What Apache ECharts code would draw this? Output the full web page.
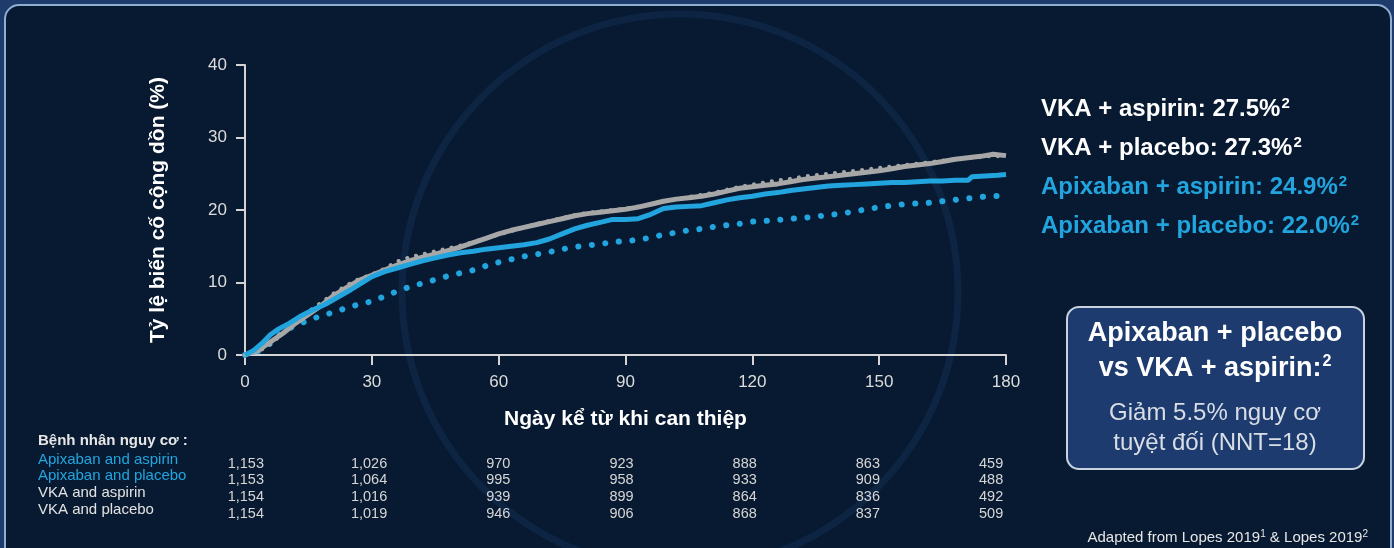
<!DOCTYPE html>
<html>
<head>
<meta charset="utf-8">
<script src="https://cdn.jsdelivr.net/npm/echarts@6/dist/echarts.min.js"></script>
<style>
  html, body { margin: 0; padding: 0; background: #1f3b6b; }
  #chart { width: 1394px; height: 548px; }
</style>
</head>
<body>
<div id="chart"></div>
<script>
// Cumulative event rate (%) by day since randomisation, [day, %]
const vkaAspirin = [[0,0],[3,0.6],[6,1.8],[9,3.0],[12,4.4],[15,5.6],[18,6.8],[21,8.2],[24,9.3],[27,10.3],[30,11.0],[33,11.7],[36,12.4],[39,13.0],[42,13.5],[45,13.9],[48,14.4],[51,14.9],[54,15.5],[57,16.1],[60,16.7],[63,17.2],[66,17.6],[69,18.0],[72,18.4],[75,18.8],[78,19.2],[81,19.5],[84,19.7],[87,19.9],[90,20.1],[93,20.4],[96,20.8],[99,21.2],[102,21.5],[105,21.7],[108,21.9],[111,22.2],[114,22.6],[117,23.0],[120,23.2],[123,23.4],[126,23.6],[129,23.9],[132,24.2],[135,24.4],[138,24.6],[141,24.8],[144,25.0],[147,25.2],[150,25.4],[153,25.7],[156,26.0],[159,26.2],[162,26.4],[165,26.7],[168,27.0],[171,27.2],[174,27.4],[177,27.7],[180,27.5]];
const vkaPlacebo = [[0,0],[3,0.4],[6,1.5],[9,3.0],[12,4.6],[15,6.0],[18,7.2],[21,8.5],[24,9.6],[27,10.5],[30,11.1],[33,11.9],[36,12.9],[39,13.5],[42,13.9],[45,14.3],[48,14.7],[51,15.1],[54,15.6],[57,16.1],[60,16.6],[63,17.1],[66,17.6],[69,18.1],[72,18.5],[75,18.9],[78,19.3],[81,19.6],[84,19.8],[87,20.0],[90,20.2],[93,20.5],[96,20.8],[99,21.2],[102,21.5],[105,21.8],[108,22.1],[111,22.4],[114,22.8],[117,23.2],[120,23.5],[123,23.8],[126,24.1],[129,24.3],[132,24.6],[135,24.8],[138,25.0],[141,25.2],[144,25.4],[147,25.6],[150,25.8],[153,26.0],[156,26.2],[159,26.4],[162,26.6],[165,26.8],[168,27.0],[171,27.2],[174,27.3],[177,27.5],[180,27.3]];
const apixAspirin = [[0,0],[2,0.6],[4,1.6],[6,2.8],[8,3.6],[10,4.2],[13,5.3],[16,6.2],[19,7.0],[22,8.0],[25,9.0],[28,10.1],[30,10.8],[33,11.5],[36,12.0],[39,12.5],[42,13.0],[45,13.4],[48,13.8],[51,14.1],[54,14.3],[57,14.6],[60,14.8],[63,15.0],[66,15.2],[69,15.5],[72,16.0],[75,16.7],[78,17.4],[81,17.9],[84,18.3],[87,18.7],[90,18.7],[93,18.8],[96,19.4],[99,20.2],[102,20.4],[105,20.5],[108,20.6],[111,21.0],[114,21.4],[117,21.7],[120,21.9],[123,22.2],[126,22.4],[129,22.7],[132,22.9],[135,23.1],[138,23.3],[141,23.4],[144,23.5],[147,23.6],[150,23.7],[153,23.8],[156,23.8],[159,23.9],[162,24.0],[165,24.0],[168,24.1],[171,24.1],[172,24.6],[175,24.7],[178,24.8],[180,24.9]];
const apixPlacebo = [[0,0],[3,0.5],[6,1.6],[9,3.2],[12,4.1],[15,4.8],[18,5.4],[21,5.9],[24,6.5],[27,7.0],[30,7.4],[33,8.1],[36,8.8],[39,9.4],[42,9.9],[45,10.4],[48,10.9],[51,11.3],[54,11.7],[57,12.3],[60,12.8],[63,13.2],[66,13.6],[69,13.9],[72,14.2],[75,14.6],[78,14.9],[81,15.1],[84,15.3],[87,15.6],[90,15.7],[93,15.9],[96,16.2],[99,16.6],[102,16.9],[105,17.2],[108,17.4],[111,17.7],[114,17.9],[117,18.1],[120,18.4],[123,18.5],[126,18.6],[129,18.8],[132,18.9],[135,19.1],[138,19.3],[141,19.5],[144,19.8],[147,20.1],[150,20.4],[153,20.6],[156,20.8],[159,20.9],[162,21.0],[165,21.2],[168,21.4],[171,21.6],[174,21.8],[177,21.9],[180,22.0]];

// 6-month rates shown beside the plot
const summaryLabels = ['VKA + aspirin: 27.5%', 'VKA + placebo: 27.3%', 'Apixaban + aspirin: 24.9%', 'Apixaban + placebo: 22.0%'];

// Number at risk table
const riskTitle = 'Bệnh nhân nguy cơ :';
const riskGroups = ['Apixaban and aspirin', 'Apixaban and placebo', 'VKA and aspirin', 'VKA and placebo'];
const riskApixAspirin = ['1,153', '1,026', '970', '923', '888', '863', '459'];
const riskApixPlacebo = ['1,153', '1,064', '995', '958', '933', '909', '488'];
const riskVkaAspirin = ['1,154', '1,016', '939', '899', '864', '836', '492'];
const riskVkaPlacebo = ['1,154', '1,019', '946', '906', '868', '837', '509'];

const yTitle = 'Tỷ lệ biến cố cộng dồn (%)';
const xTitle = 'Ngày kể từ khi can thiệp';
const boxTitle = ['Apixaban + placebo', 'vs VKA + aspirin:'];
const boxBody = ['Giảm 5.5% nguy cơ', 'tuyệt đối (NNT=18)'];
const sourceRef = 'Lopes 2019';

const BLUE = '#22a5df';
const GRAY = '#a7a7a7';
const FONT = '"Liberation Sans", Arial, sans-serif';

const chart = echarts.init(document.getElementById('chart'));

function supStyle(color, size, pad) {
  return { fill: color, fontFamily: FONT, fontSize: size, fontWeight: 'bold', verticalAlign: 'top', padding: [0, 0, pad, 1] };
}

function summaryText(i, y, color) {
  return {
    type: 'text', left: 1041, top: y,
    style: {
      text: summaryLabels[i] + '{s|2}',
      fill: color, font: 'bold 24px ' + FONT,
      rich: { s: supStyle(color, 15, 12) }
    }
  };
}

const riskRows = [riskApixAspirin, riskApixPlacebo, riskVkaAspirin, riskVkaPlacebo];
const rowColors = [BLUE, BLUE, '#e2e2e2', '#e2e2e2'];
const tableEls = [{
  type: 'text', left: 38, top: 433,
  style: { text: riskTitle, fill: '#e6e6e6', font: 'bold 15px ' + FONT }
}];
riskGroups.forEach((g, r) => {
  tableEls.push({
    type: 'text', left: 38, top: 452 + r * 16.8,
    style: { text: g, fill: rowColors[r], font: '15px ' + FONT }
  });
  riskRows[r].forEach((v, c) => {
    tableEls.push({
      type: 'text', x: 264 + c * 123.2, y: 456 + r * 16.8,
      style: { text: v, fill: '#d6d6d6', font: '14.5px ' + FONT, align: 'right' }
    });
  });
});

const option = {
  backgroundColor: '#1f3b6b',
  animation: false,
  grid: { left: 245, right: 388, top: 65, bottom: 193, containLabel: false },
  xAxis: {
    type: 'value', min: 0, max: 180, interval: 30,
    name: xTitle, nameLocation: 'middle', nameGap: 54,
    nameTextStyle: { color: '#ffffff', fontSize: 21, fontWeight: 'bold', fontFamily: FONT },
    axisLine: { show: true, lineStyle: { color: '#d4d4d4', width: 2 } },
    axisTick: { show: true, length: 10, lineStyle: { color: '#d4d4d4', width: 2 } },
    axisLabel: { color: '#dcdcdc', fontSize: 17, fontFamily: FONT, margin: 19 },
    splitLine: { show: false }
  },
  yAxis: {
    type: 'value', min: 0, max: 40, interval: 10,
    name: yTitle, nameLocation: 'middle', nameGap: 76, nameRotate: 90,
    nameTextStyle: { color: '#ffffff', fontSize: 21, fontWeight: 'bold', fontFamily: FONT },
    axisLine: { show: true, lineStyle: { color: '#d4d4d4', width: 2 } },
    axisTick: { show: true, length: 9, lineStyle: { color: '#d4d4d4', width: 2 } },
    axisLabel: { color: '#dcdcdc', fontSize: 17, fontFamily: FONT, margin: 18 },
    splitLine: { show: false }
  },
  graphic: [
    // slide panel
    { type: 'rect', z: -10, shape: { x: 5, y: 5, width: 1386, height: 560, r: 14 },
      style: { fill: '#081a31', stroke: '#8eaed4', lineWidth: 2 } },
    // faint seal ring behind the plot
    { type: 'circle', z: -9, shape: { cx: 680, cy: 292, r: 278 },
      style: { fill: 'none', stroke: 'rgba(22,58,104,0.35)', lineWidth: 7 } },
    // six-month event rates
    summaryText(0, 96, '#ffffff'),
    summaryText(1, 135, '#ffffff'),
    summaryText(2, 174, BLUE),
    summaryText(3, 213, BLUE),
    // comparison box
    { type: 'rect', shape: { x: 1067, y: 307, width: 297, height: 162, r: 12 },
      style: { fill: '#1d3b6e', stroke: '#c9d3e0', lineWidth: 2 } },
    { type: 'text', x: 1215, y: 320,
      style: { text: boxTitle[0], fill: '#ffffff', font: 'bold 27px ' + FONT, align: 'center' } },
    { type: 'text', x: 1215, y: 354,
      style: { text: boxTitle[1] + '{s|2}', fill: '#ffffff', font: 'bold 27px ' + FONT, align: 'center',
        rich: { s: supStyle('#ffffff', 16, 14) } } },
    { type: 'text', x: 1215, y: 401,
      style: { text: boxBody[0], fill: '#d9dee6', font: '24px ' + FONT, align: 'center' } },
    { type: 'text', x: 1215, y: 431,
      style: { text: boxBody[1], fill: '#d9dee6', font: '24px ' + FONT, align: 'center' } },
    // source note
    { type: 'text', x: 1368, y: 529,
      style: { text: 'Adapted from ' + sourceRef + '{s|1} & ' + sourceRef + '{s|2}', fill: '#e6e6e6', font: '15px ' + FONT, align: 'right',
        rich: { s: { fill: '#e6e6e6', fontSize: 10, fontFamily: FONT, verticalAlign: 'top', padding: [0, 0, 7, 0] } } } }
  ].concat(tableEls),
  series: [
    { name: 'Apixaban + placebo', type: 'line', data: apixPlacebo, showSymbol: false, z: 2,
      lineStyle: { color: BLUE, width: 6, type: [0.1, 13.5], cap: 'round' } },
    { name: 'VKA + aspirin', type: 'line', data: vkaAspirin, showSymbol: false, z: 3,
      lineStyle: { color: GRAY, width: 5 } },
    { name: 'VKA + placebo', type: 'line', data: vkaPlacebo, showSymbol: false, z: 4,
      lineStyle: { color: GRAY, width: 4, type: [0.1, 9], cap: 'round' } },
    { name: 'Apixaban + aspirin', type: 'line', data: apixAspirin, showSymbol: false, z: 5,
      lineStyle: { color: BLUE, width: 5 } }
  ]
};

chart.setOption(option);
</script>
</body>
</html>
